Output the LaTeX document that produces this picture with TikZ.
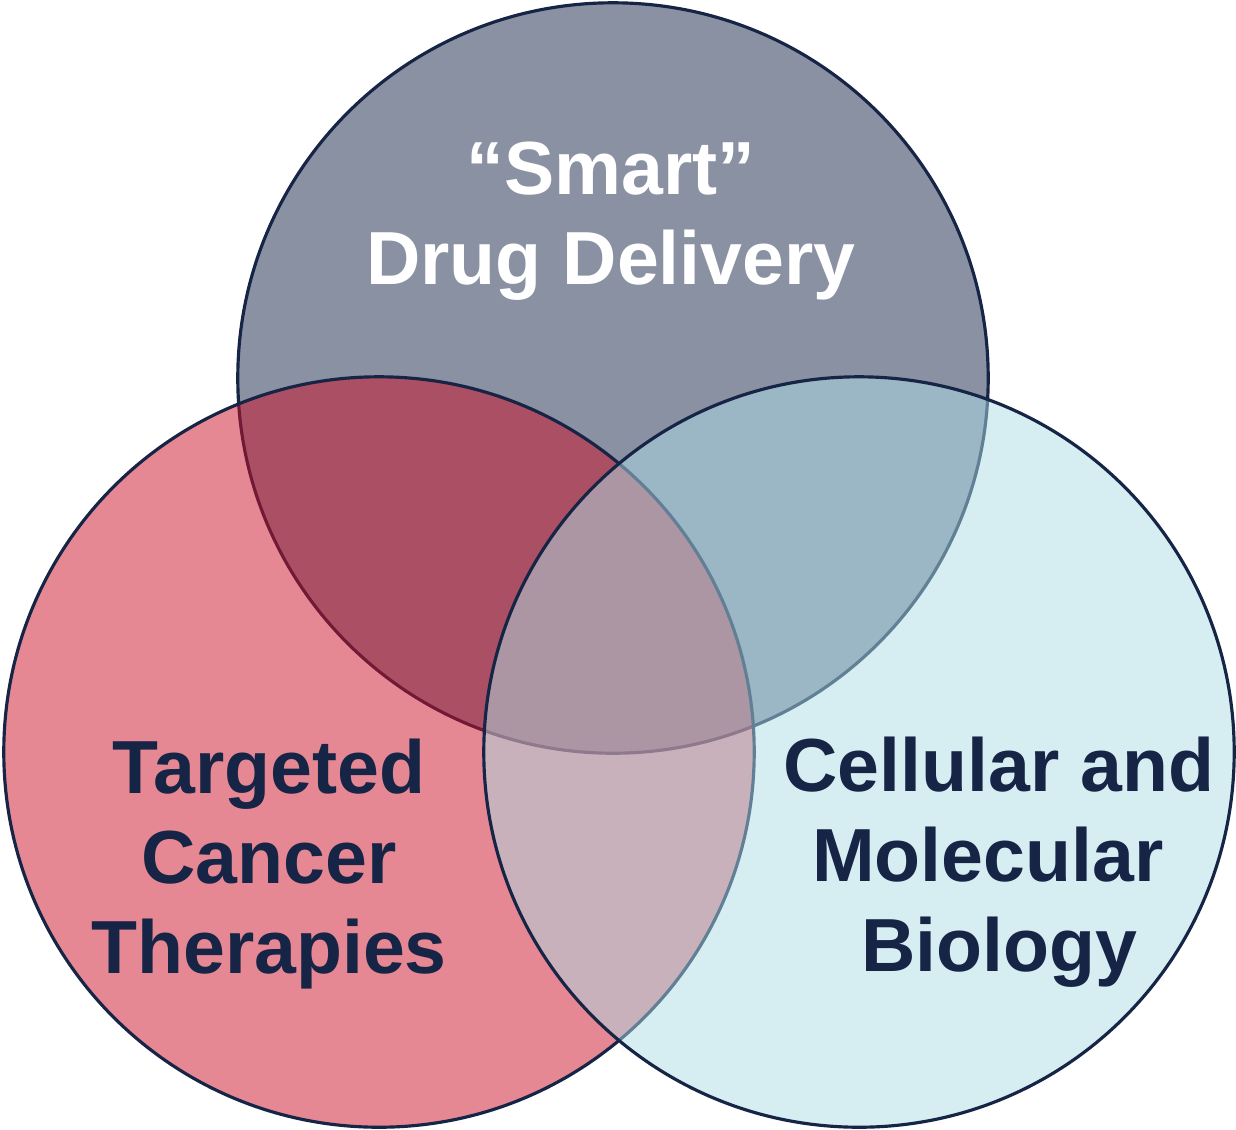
\documentclass[tikz,border=0pt]{standalone}
\usepackage{fontspec}
\setmainfont{Liberation Sans}
\usetikzlibrary{positioning}
\definecolor{vennnavy}{RGB}{22,36,70}
\definecolor{vennred}{RGB}{205,17,39}
\definecolor{venncyan}{RGB}{173,219,229}
\tikzset{
ring/.style={draw=vennnavy, line width=0.9pt, fill opacity=.5},
venntext/.style={inner sep=0pt, align=center, font=\fontsize{21.4}{25.6}\selectfont\bfseries}
}
\begin{document}
\begin{tikzpicture}[x=0.01cm,y=-0.01cm]
	\useasboundingbox (0,0) rectangle (1236,1129);
	\draw[ring, fill=vennnavy] (613,378) circle (3.75cm);
	\draw[ring, fill=vennred] (379,752) circle (3.75cm);
	\draw[ring, fill=venncyan] (859,752) circle (3.75cm);
	\node[venntext, text=white] (smart) at (611,221) {“Smart”\\Drug Delivery};
	\node[venntext, text=vennnavy] (cancer) at (269,864) {Targeted\\Cancer\\Therapies};
	\node[venntext, text=vennnavy] (biology) at (999,862) {Cellular and\\Molecular\kern.3em\\Biology};
\end{tikzpicture}
\end{document}
